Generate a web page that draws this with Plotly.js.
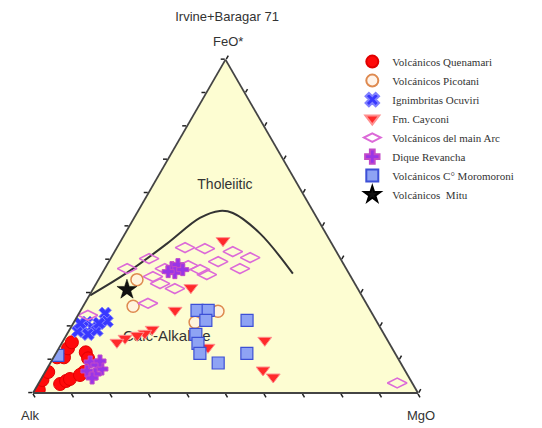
<!DOCTYPE html>
<html>
<head>
<meta charset="utf-8">
<script src="https://cdn.plot.ly/plotly-3.0.1.min.js"></script>
<style>html,body{margin:0;padding:0;background:#fff;}#chart{width:542px;height:428px;}</style>
</head>
<body>
<div id="chart"></div>
<script>
// Values are [FeO*, Alk, MgO] in percent
const quenamariFeO = [1, 3.9, 6.3, 2.7, 3.6, 4.2, 10.7, 13.4, 15.2, 12.2, 10.4, 6.3, 5.4, 10.7];
const quenamariAlk = [98, 95.6, 92.9, 91.6, 89.6, 88.3, 86.6, 84.2, 82.3, 80.2, 80.5, 83.6, 85.1, 88.4];
const quenamariMgO = [1, 0.5, 0.8, 5.7, 6.8, 7.5, 2.7, 2.4, 2.5, 7.6, 9.1, 10.1, 9.5, 0.9];

const picotaniFeO = [34.0, 26.0, 24.5, 21.2];
const picotaniAlk = [56.0, 61.0, 39.7, 47.3];
const picotaniMgO = [10.0, 13.0, 35.8, 31.5];

const ocuviriFeO = [21.2, 19.7, 19.7, 18.5, 17.6, 18.8, 20.9, 23.9, 21.5, 20.9];
const ocuviriAlk = [75.4, 74.8, 77.2, 79.1, 76.9, 74.0, 77.3, 69.3, 70.0, 72.4];
const ocuviriMgO = [3.4, 5.5, 3.1, 2.4, 5.5, 7.2, 1.8, 6.8, 8.5, 6.7];

const caycoFeO = [45.7, 31.6, 24.8, 19.1, 17.9, 17.3, 16.4, 15.2, 15.8, 13.7, 6.9, 4.8];
const caycoAlk = [27.8, 43.2, 50.7, 59.5, 62.0, 64.3, 67.9, 70.6, 31.9, 47.7, 36.8, 35.2];
const caycoMgO = [26.5, 25.2, 24.5, 21.4, 20.1, 18.4, 15.7, 14.2, 52.3, 38.6, 56.3, 60.0];

const mainArcFeO = [40.3, 43.6, 43.3, 42.4, 40.6, 39.4, 37.3, 37.3, 34.9, 32.8, 31.3, 37.0, 35.5, 38.2, 26.9, 23.3, 3.0, 37.3];
const mainArcAlk = [49.7, 38.7, 33.7, 26.9, 23.3, 32.2, 27.6, 56.9, 51.4, 50.6, 47.5, 38.1, 37.1, 40.6, 56.7, 74.1, 3.9, 47.1];
const mainArcMgO = [10.0, 17.7, 23.0, 30.7, 36.1, 28.4, 35.1, 5.8, 13.7, 16.6, 21.2, 24.9, 27.4, 21.2, 16.4, 2.6, 93.1, 15.6];

const diqueFeO = [9.3, 8.4, 7.2, 6.6, 5.7, 9.6, 4.5, 37.6, 38.5, 36.1, 36.4, 37.0];
const diqueAlk = [80.5, 79.2, 78.5, 82.7, 81.0, 77.8, 82.4, 45.1, 43.1, 45.1, 46.7, 42.6];
const diqueMgO = [10.2, 12.4, 14.3, 10.7, 13.3, 12.6, 13.1, 17.3, 18.4, 18.8, 16.9, 20.4];

const moroFeO = [24.8, 24.8, 21.8, 21.8, 17.6, 14.9, 11.9, 11.9, 9.0, 11.3];
const moroAlk = [45.0, 42.1, 44.2, 33.5, 48.9, 49.7, 50.7, 38.5, 47.4, 87.9];
const moroMgO = [30.2, 33.1, 34.0, 44.7, 33.5, 35.4, 37.4, 49.6, 43.6, 0.8];

const mituFeO = [31.0];
const mituAlk = [60.1];
const mituMgO = [8.9];

// Irvine & Baragar (1971) tholeiitic / calc-alkaline divide
const divideFeO = [29.3, 36.1, 44.8, 52.5, 54.6, 54.0, 47.8, 35.8];
const divideAlk = [70.5, 57.5, 42.8, 30.4, 24.2, 21.1, 17.1, 14.6];
const divideMgO = [0.2, 6.4, 12.4, 17.1, 21.2, 24.9, 35.1, 49.6];

const fieldLabels = ['Tholeiitic', 'Calc-Alkaline'];
const fieldFeO = [62.1, 16.7];
const fieldAlk = [19.1, 56.9];
const fieldMgO = [18.8, 26.4];

const cornerLabels = ['FeO*', 'Alk', 'MgO'];

const seriesNames = ['Volcánicos Quenamari', 'Volcánicos Picotani', 'Ignimbritas Ocuviri', 'Fm. Cayconi',
  'Volcánicos del main Arc', 'Dique Revancha', 'Volcánicos C° Moromoroni', 'Volcánicos  Mitu'];

const traces = [
  {type:'scatterternary', mode:'text', a:fieldFeO, b:fieldAlk, c:fieldMgO, text:fieldLabels,
   textfont:{family:'Liberation Sans, Arial', size:[14,15], color:'#333'}, showlegend:false, hoverinfo:'skip'},
  {type:'scatterternary', mode:'lines', a:divideFeO, b:divideAlk, c:divideMgO,
   line:{color:'#333', width:2, shape:'spline', smoothing:1}, showlegend:false, hoverinfo:'skip'},
  {type:'scatterternary', mode:'markers', name:seriesNames[0], a:quenamariFeO, b:quenamariAlk, c:quenamariMgO,
   marker:{symbol:'circle', size:13, color:'#ff0a0a', line:{color:'#e00000', width:1}}},
  {type:'scatterternary', mode:'markers', name:seriesNames[1], a:picotaniFeO, b:picotaniAlk, c:picotaniMgO,
   marker:{symbol:'circle', size:12, color:'rgba(255,240,225,0.7)', line:{color:'#de8a50', width:1.5}}},
  {type:'scatterternary', mode:'markers', name:seriesNames[2], a:ocuviriFeO, b:ocuviriAlk, c:ocuviriMgO,
   marker:{symbol:'x', size:11, color:'#3838ff', line:{color:'#8080ff', width:1}}},
  {type:'scatterternary', mode:'markers', name:seriesNames[3], a:caycoFeO, b:caycoAlk, c:caycoMgO,
   marker:{symbol:'triangle-down', size:12, color:'#ff2a2a', line:{color:'#ff9090', width:1}}},
  {type:'scatterternary', mode:'markers', name:seriesNames[4], a:mainArcFeO, b:mainArcAlk, c:mainArcMgO,
   marker:{symbol:'diamond-wide-open', size:14, color:'#dc6ad8', line:{width:1.6}}},
  {type:'scatterternary', mode:'markers', name:seriesNames[5], a:diqueFeO, b:diqueAlk, c:diqueMgO,
   marker:{symbol:'cross', size:10, color:'#9a35e6', line:{color:'#c24ac8', width:1}}},
  {type:'scatterternary', mode:'markers', name:seriesNames[6], a:moroFeO, b:moroAlk, c:moroMgO,
   marker:{symbol:'square', size:12, color:'#8ea3f4', line:{color:'#3c4fd6', width:1.2}}},
  {type:'scatterternary', mode:'markers', name:seriesNames[7], a:mituFeO, b:mituAlk, c:mituMgO,
   marker:{symbol:'star', size:15, color:'#111', line:{color:'#000', width:0.5}}}
];

const axisCommon = {
  title:{text:''},
  showgrid:false, showticklabels:false, ticks:'outside', ticklen:4, tickcolor:'#222', tickwidth:1.5,
  tickmode:'linear', tick0:0, dtick:10, linecolor:'#444', linewidth:1.8, showline:true, layer:'above traces'
};

const layout = {
  width:542, height:428,
  margin:{l:0, r:0, t:0, b:0},
  paper_bgcolor:'#ffffff',
  font:{family:'Liberation Sans, Arial', color:'#333'},
  title:{text:'Irvine+Baragar 71', x:0.419, xanchor:'center', xref:'paper', y:0.962, yref:'container', yanchor:'middle',
         font:{family:'Liberation Sans, Arial', size:13, color:'#333'}},
  ternary:{
    sum:100,
    domain:{x:[33/542, 418/542], y:[35/428, 368.4/428]},
    bgcolor:'#fdfdd2',
    aaxis:Object.assign({}, axisCommon),
    baxis:Object.assign({}, axisCommon),
    caxis:Object.assign({}, axisCommon)
  },
  annotations:[
    {text:cornerLabels[0], xref:'paper', yref:'paper', x:228/542, y:1-42/428, xanchor:'center', yanchor:'middle', showarrow:false, font:{size:13, color:'#333'}},
    {text:cornerLabels[1], xref:'paper', yref:'paper', x:30/542, y:1-415/428, xanchor:'center', yanchor:'middle', showarrow:false, font:{size:13, color:'#333'}},
    {text:cornerLabels[2], xref:'paper', yref:'paper', x:421/542, y:1-415/428, xanchor:'center', yanchor:'middle', showarrow:false, font:{size:13, color:'#333'}}
  ],
  showlegend:true,
  legend:{x:0.65, xanchor:'left', y:0.89, yanchor:'top', bgcolor:'rgba(0,0,0,0)', tracegroupgap:0,
          font:{family:'Liberation Serif, Times New Roman', size:11, color:'#333'}, itemsizing:'constant'}
};

Plotly.newPlot('chart', traces, layout, {displayModeBar:false, staticPlot:true});
</script>
</body>
</html>
